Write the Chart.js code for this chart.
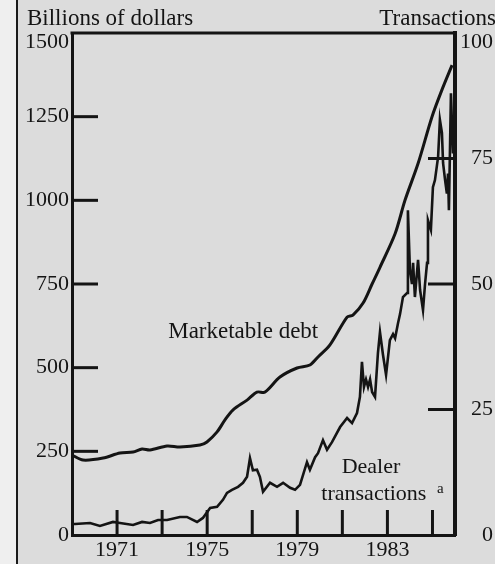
<!DOCTYPE html>
<html>
<head>
<meta charset="utf-8">
<script src="https://cdn.jsdelivr.net/npm/chart.js@4.4.1/dist/chart.umd.min.js"></script>
<style>
  html, body { margin: 0; padding: 0; }
  body {
    width: 495px; height: 564px; overflow: hidden;
    background: linear-gradient(to right, #efefef 0px, #efefef 16px, #1a1a1a 16px, #1a1a1a 18px, #dcdcdc 18px, #dcdcdc 100%);
  }
  canvas { display: block; }
</style>
</head>
<body>
<canvas id="c" width="495" height="564"></canvas>
<script>
// ---- Data ----
const leftTicks = [0, 250, 500, 750, 1000, 1250, 1500];
const rightTicks = [0, 25, 50, 75, 100];
const xTickYears = [1971, 1973, 1975, 1977, 1979, 1981, 1983, 1985];
const xLabelYears = [1971, 1975, 1979, 1983];

// Marketable debt (billions of dollars)
const debtYears = [1969.02, 1969.49, 1970.38, 1971.13, 1971.71, 1972.11, 1972.46, 1973.22, 1973.79, 1974.68, 1974.99,
  1975.44, 1975.79, 1976.15, 1976.77, 1977.21, 1977.57, 1978.23, 1978.99, 1979.56, 1979.92, 1980.45, 1981.21, 1981.47,
  1981.92, 1982.32, 1982.67, 1983.34, 1983.78, 1984.36, 1984.98, 1985.42, 1985.87];
const debtValues = [238, 224, 230, 245, 248, 257, 254, 266, 263, 269, 278,
  308, 344, 374, 403, 427, 427, 472, 499, 508, 532, 568, 651, 657,
  693, 750, 800, 900, 1000, 1110, 1250, 1330, 1404];

// Dealer transactions (right scale)
const dealerYears = [1969.02, 1969.13, 1969.80, 1970.24, 1970.82, 1971.13, 1971.71, 1972.11, 1972.46, 1972.82, 1973.22,
  1973.79, 1974.10, 1974.55, 1974.81, 1975.13, 1975.44, 1975.70, 1975.88, 1976.10, 1976.37, 1976.59, 1976.77, 1976.90,
  1977.03, 1977.21, 1977.34, 1977.48, 1977.79, 1978.10, 1978.37, 1978.68, 1978.90, 1979.12, 1979.43, 1979.56, 1979.79,
  1979.92, 1980.14, 1980.32, 1980.54, 1980.90, 1981.21, 1981.43, 1981.65, 1981.78, 1981.87, 1981.96, 1982.05, 1982.14,
  1982.23, 1982.32, 1982.45, 1982.58, 1982.67, 1982.80, 1982.94, 1983.11, 1983.25, 1983.34, 1983.47, 1983.56, 1983.69,
  1983.87, 1983.91, 1984.00, 1984.09, 1984.14, 1984.22, 1984.36, 1984.45, 1984.58, 1984.67, 1984.76, 1984.80, 1984.93,
  1985.02, 1985.11, 1985.25, 1985.33, 1985.42, 1985.47, 1985.56, 1985.64, 1985.69, 1985.73, 1985.82, 1985.91];
const dealerValues = [2.2, 2.2, 2.4, 1.8, 2.6, 2.4, 2.0, 2.6, 2.4, 3.0, 3.0,
  3.6, 3.6, 2.6, 3.4, 5.4, 5.6, 7.0, 8.4, 9.0, 9.6, 10.4, 11.6, 15.3,
  12.9, 13.0, 11.6, 8.6, 10.4, 9.6, 10.4, 9.4, 9.0, 10.0, 14.5, 13.0, 15.5,
  16.3, 18.9, 17.0, 18.5, 21.5, 23.3, 22.3, 24.3, 27.5, 34.5, 29.5, 31.0, 29.5,
  31.0, 28.5, 27.5, 36.3, 40.4, 36.0, 31.9, 38.8, 40.0, 39.2, 42.2, 44.0, 47.4,
  48.2, 64.7, 52.8, 50.0, 54.2, 47.4, 54.8, 48.8, 44.8, 50.0, 54.2, 62.7, 60.8,
  69.3, 70.7, 75.3, 82.7, 80.1, 74.1, 70.7, 68.0, 72.0, 64.7, 88.0, 76.0];

const leftTitle = 'Billions of dollars';
const rightTitle = 'Transactions';
const debtLabel = 'Marketable debt';
const dealerLabel1 = 'Dealer';
const dealerLabel2 = 'transactions';
const dealerSup = 'a';

// ---- Chart ----
const INK = '#141414';
const FONT = "'Liberation Serif', 'Times New Roman', serif";

const framePlugin = {
  id: 'frame',
  afterDraw(chart) {
    const ctx = chart.ctx;
    const a = chart.chartArea;
    const x = chart.scales.x, y = chart.scales.y, y2 = chart.scales.y2;
    ctx.save();
    ctx.strokeStyle = INK;
    ctx.lineCap = 'butt';
    // top frame line
    ctx.lineWidth = 3;
    ctx.beginPath();
    ctx.moveTo(a.left - 1.5, a.top);
    ctx.lineTo(a.right + 2, a.top);
    ctx.stroke();
    // inward ticks, left axis
    ctx.lineWidth = 3;
    leftTicks.forEach(v => {
      if (v === 0 || v === 1500) return;
      const py = y.getPixelForValue(v);
      ctx.beginPath(); ctx.moveTo(a.left, py); ctx.lineTo(a.left + 26, py); ctx.stroke();
    });
    // inward ticks, right axis
    rightTicks.forEach(v => {
      if (v === 0 || v === 100) return;
      const py = y2.getPixelForValue(v);
      ctx.beginPath(); ctx.moveTo(a.right, py); ctx.lineTo(a.right - 27, py); ctx.stroke();
    });
    // inward ticks, bottom axis
    xTickYears.forEach(v => {
      const px = x.getPixelForValue(v);
      ctx.beginPath(); ctx.moveTo(px, a.bottom); ctx.lineTo(px, a.bottom - 25); ctx.stroke();
    });
    ctx.fillStyle = INK;
    ctx.textBaseline = 'alphabetic';
    // top tick labels sit just below the top frame line
    ctx.font = '22px ' + FONT;
    ctx.textAlign = 'right';
    ctx.fillText(String(leftTicks[leftTicks.length - 1]), a.left - 3, y.getPixelForValue(1500) + 15);
    ctx.fillText(String(rightTicks[rightTicks.length - 1]), chart.width - 2, y2.getPixelForValue(100) + 15);
    // titles
    ctx.font = '23px ' + FONT;
    ctx.textAlign = 'left';
    ctx.fillText(leftTitle, 27, 25);
    ctx.textAlign = 'right';
    ctx.fillText(rightTitle, 496, 25);
    // in-plot labels, positioned in data coordinates
    ctx.textAlign = 'center';
    ctx.fillText(debtLabel, x.getPixelForValue(1976.6), y.getPixelForValue(590));
    ctx.font = '22px ' + FONT;
    ctx.fillText(dealerLabel1, x.getPixelForValue(1982.27), y.getPixelForValue(185));
    ctx.fillText(dealerLabel2, x.getPixelForValue(1982.4), y.getPixelForValue(105));
    ctx.font = '15px ' + FONT;
    ctx.textAlign = 'left';
    ctx.fillText(dealerSup, x.getPixelForValue(1985.2), y.getPixelForValue(125));
    ctx.restore();
  }
};

new Chart(document.getElementById('c'), {
  type: 'line',
  data: {
    datasets: [
      {
        label: debtLabel,
        data: debtYears.map((yr, i) => ({ x: yr, y: debtValues[i] })),
        yAxisID: 'y',
        borderColor: INK,
        borderWidth: 3,
        pointRadius: 0,
        tension: 0.3,
        fill: false
      },
      {
        label: 'Dealer transactions',
        data: dealerYears.map((yr, i) => ({ x: yr, y: dealerValues[i] })),
        yAxisID: 'y2',
        borderColor: INK,
        borderWidth: 2.6,
        pointRadius: 0,
        tension: 0,
        fill: false
      }
    ]
  },
  options: {
    responsive: false,
    animation: false,
    devicePixelRatio: 1,
    layout: { padding: { top: 33, right: 2, left: 0, bottom: 0 } },
    plugins: { legend: { display: false }, tooltip: { enabled: false }, title: { display: false } },
    scales: {
      x: {
        type: 'linear',
        position: 'bottom',
        min: 1969,
        max: 1986,
        afterBuildTicks: (s) => { s.ticks = xTickYears.map(v => ({ value: v })); },
        afterFit: (s) => { s.height = 29; },
        grid: { display: false, drawTicks: false },
        border: { display: true, width: 3, color: INK },
        ticks: {
          autoSkip: false, maxRotation: 0, padding: 2,
          color: INK, font: { family: FONT, size: 22 },
          callback: (v) => xLabelYears.includes(v) ? String(v) : ''
        }
      },
      y: {
        type: 'linear',
        position: 'left',
        min: 0,
        max: 1500,
        afterBuildTicks: (s) => { s.ticks = leftTicks.map(v => ({ value: v })); },
        afterFit: (s) => { s.width = 72; },
        grid: { display: false, drawTicks: false },
        border: { display: true, width: 3, color: INK },
        ticks: { padding: 3, color: INK, font: { family: FONT, size: 22 }, callback: (v) => v === 1500 ? '' : String(v) }
      },
      y2: {
        type: 'linear',
        position: 'right',
        min: 0,
        max: 100,
        afterBuildTicks: (s) => { s.ticks = rightTicks.map(v => ({ value: v })); },
        afterFit: (s) => { s.width = 38; },
        grid: { display: false, drawTicks: false },
        border: { display: true, width: 4, color: INK },
        ticks: { padding: 3, crossAlign: 'far', color: INK, font: { family: FONT, size: 22 }, callback: (v) => v === 100 ? '' : String(v) }
      }
    }
  },
  plugins: [framePlugin]
});
</script>
</body>
</html>
